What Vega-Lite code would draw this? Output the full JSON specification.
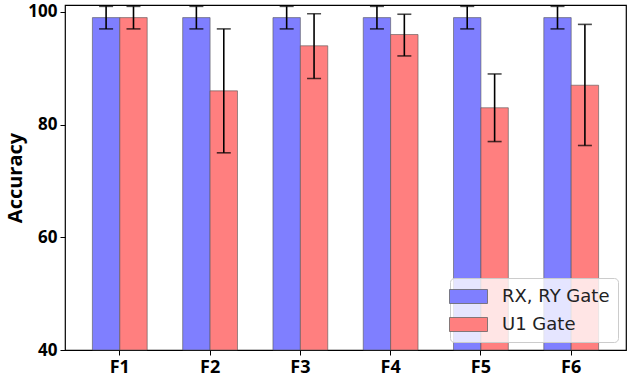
{
  "$schema": "https://vega.github.io/schema/vega-lite/v6.json",
  "width": 561,
  "height": 345,
  "autosize": {"type": "none"},
  "padding": {"left": 65, "top": 5, "right": 3, "bottom": 27},
  "config": {
    "view": {"stroke": "#000000", "strokeWidth": 1.2},
    "font": "DejaVu Sans",
    "axis": {"grid": false, "domain": false, "tickColor": "#000", "tickSize": 5, "labelColor": "#000", "titleColor": "#000", "labelFont": "Open Sans", "titleFont": "Open Sans"}
  },
  "data": {
    "values": [
      {"feature": "F1", "gate": "RX, RY Gate", "acc": 99, "lo": 97, "hi": 101},
      {"feature": "F1", "gate": "U1 Gate", "acc": 99, "lo": 97, "hi": 101},
      {"feature": "F2", "gate": "RX, RY Gate", "acc": 99, "lo": 97, "hi": 101},
      {"feature": "F2", "gate": "U1 Gate", "acc": 86, "lo": 75, "hi": 97},
      {"feature": "F3", "gate": "RX, RY Gate", "acc": 99, "lo": 97, "hi": 101},
      {"feature": "F3", "gate": "U1 Gate", "acc": 94, "lo": 88.2, "hi": 99.7},
      {"feature": "F4", "gate": "RX, RY Gate", "acc": 99, "lo": 97, "hi": 101},
      {"feature": "F4", "gate": "U1 Gate", "acc": 96, "lo": 92.2, "hi": 99.6},
      {"feature": "F5", "gate": "RX, RY Gate", "acc": 99, "lo": 97, "hi": 101},
      {"feature": "F5", "gate": "U1 Gate", "acc": 83, "lo": 77, "hi": 89},
      {"feature": "F6", "gate": "RX, RY Gate", "acc": 99, "lo": 97, "hi": 101},
      {"feature": "F6", "gate": "U1 Gate", "acc": 87, "lo": 76.3, "hi": 97.8}
    ]
  },
  "encoding": {
    "x": {
      "field": "feature", "type": "nominal",
      "scale": {"paddingInner": 0.393, "paddingOuter": 0.3035},
      "axis": {"title": null, "labelAngle": 0, "labelFontSize": 18, "labelFontWeight": "bold", "labelPadding": 3}
    },
    "xOffset": {"field": "gate", "type": "nominal", "scale": {"paddingInner": 0, "paddingOuter": 0}}
  },
  "layer": [
    {
      "mark": {"type": "bar", "stroke": "#555555", "strokeOpacity": 0.6, "strokeWidth": 1},
      "encoding": {
        "y": {
          "field": "acc", "type": "quantitative",
          "scale": {"domain": [40, 101.24], "nice": false, "zero": false},
          "axis": {"title": "Accuracy", "values": [40, 60, 80, 100], "labelFontSize": 17, "labelFontWeight": "bold", "titleFontSize": 20, "titleFontWeight": "bold", "titlePadding": 2, "labelPadding": 3}
        },
        "y2": {"datum": 40},
        "color": {
          "field": "gate", "type": "nominal",
          "scale": {"domain": ["RX, RY Gate", "U1 Gate"], "range": ["#7f7fff", "#ff7f7f"]},
          "legend": {
            "title": null,
            "orient": "bottom-right",
            "offset": 8,
            "labelFont": "DejaVu Sans",
            "labelFontSize": 18,
            "labelColor": "#222",
            "symbolType": "M-1.9,-0.7H1.9V0.7H-1.9Z",
            "symbolSize": 400,
            "symbolStrokeColor": "#666666",
            "symbolStrokeWidth": 0.8,
            "symbolOpacity": 1,
            "rowPadding": 8,
            "labelOffset": 23,
            "padding": 8,
            "strokeColor": "#cccccc",
            "fillColor": "rgba(255,255,255,0.8)",
            "cornerRadius": 4
          }
        }
      }
    },
    {
      "mark": {"type": "rule", "color": "#000", "strokeWidth": 1.6},
      "encoding": {
        "y": {"field": "lo", "type": "quantitative"},
        "y2": {"field": "hi"}
      }
    },
    {
      "mark": {"type": "tick", "color": "#000", "thickness": 1.6, "size": 14},
      "encoding": {"y": {"field": "lo", "type": "quantitative"}}
    },
    {
      "mark": {"type": "tick", "color": "#000", "thickness": 1.6, "size": 14},
      "encoding": {"y": {"field": "hi", "type": "quantitative"}}
    }
  ]
}
